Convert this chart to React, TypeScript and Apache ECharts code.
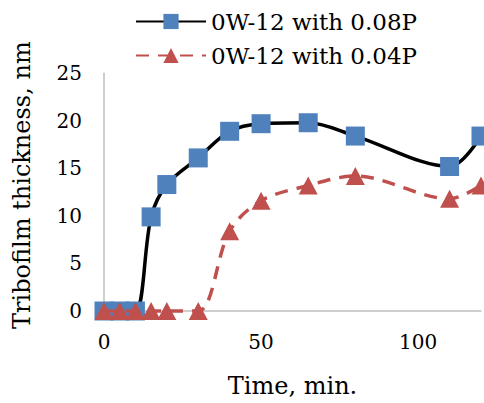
import React, { useEffect, useRef } from "react";
import * as echarts from "echarts";

const timeMin = [0, 5, 10, 15, 20, 30, 40, 50, 65, 80, 110, 120];
const thick008P = [0, 0, 0, 9.9, 13.3, 16.1, 18.9, 19.7, 19.8, 18.4, 15.2, 18.4];
const thick004P = [0, 0, 0, 0, 0, 0, 8.4, 11.6, 13.2, 14.2, 11.8, 13.2];
const seriesNames = ["0W-12 with 0.08P", "0W-12 with 0.04P"];
const xTitle = "Time, min.";
const yTitle = "Tribofilm thickness, nm";

const FONT = "DVSerifAlias";
const FONT_CSS = "'DejaVu Serif', DVSerifAlias, serif";

if (typeof document !== "undefined" && !document.getElementById("dvserif-alias")) {
  const st = document.createElement("style");
  st.id = "dvserif-alias";
  st.textContent =
    "@font-face{font-family:'DVSerifAlias';src:local('DejaVu Serif'),local('DejaVuSerif');}";
  document.head.appendChild(st);
}

function buildOption() {
  const pairs = (ys: number[]) => timeMin.map((x, i) => [x, ys[i]]);
  return {
    animation: false,
    backgroundColor: "#ffffff",
    textStyle: { fontFamily: FONT, color: "#000" },
    legend: {
      orient: "vertical",
      left: 130,
      top: 5,
      itemWidth: 70,
      itemHeight: 19,
      itemGap: 11,
      textStyle: { fontFamily: FONT, fontSize: 23, color: "#000" },
      data: seriesNames,
    },
    grid: { left: 104, right: 3, top: 73.3, bottom: 81.3, containLabel: false },
    xAxis: {
      type: "value",
      min: 0,
      max: 120,
      interval: 50,
      name: xTitle,
      nameLocation: "middle",
      nameGap: 63,
      nameTextStyle: { fontFamily: FONT, fontSize: 24, color: "#000" },
      axisLine: { show: true, lineStyle: { color: "#bfbfbf", width: 1.5 } },
      axisTick: { show: false },
      splitLine: { show: false },
      axisLabel: {
        fontFamily: FONT,
        fontSize: 20,
        color: "#000",
        margin: 21,
        showMaxLabel: false,
      },
    },
    yAxis: {
      type: "value",
      min: 0,
      max: 25,
      interval: 5,
      name: yTitle,
      nameLocation: "middle",
      nameGap: 70,
      nameTextStyle: {
        fontFamily: FONT,
        fontSize: 24,
        color: "#000",
        padding: [0, 0, 0, 14],
      },
      axisLine: { show: true, lineStyle: { color: "#bfbfbf", width: 1.5 } },
      axisTick: { show: false },
      splitLine: { show: false },
      axisLabel: { fontFamily: FONT, fontSize: 20, color: "#000", margin: 22 },
    },
    series: [
      {
        name: seriesNames[0],
        type: "line",
        data: pairs(thick008P),
        smooth: 0.33,
        symbol: "rect",
        symbolSize: 19,
        clip: false,
        lineStyle: { color: "#000000", width: 3.5 },
        itemStyle: { color: "#4f81bd", borderColor: "#4f81bd", borderWidth: 0 },
        z: 2,
      },
      {
        name: seriesNames[1],
        type: "line",
        data: pairs(thick004P),
        smooth: 0.33,
        symbol: "triangle",
        symbolSize: [19, 18],
        clip: false,
        lineStyle: { color: "#c0504d", width: 3.5, type: [13, 9] },
        itemStyle: { color: "#c0504d", borderWidth: 0 },
        z: 3,
      },
    ],
  };
}

export default function App() {
  const ref = useRef<HTMLDivElement>(null);
  useEffect(() => {
    const el = ref.current;
    if (!el) return;
    const chart = echarts.init(el, undefined, { renderer: "svg" });
    const applyFont = () => {
      el.querySelectorAll("text").forEach((t) => {
        (t as unknown as SVGElement).style.setProperty("font-family", FONT_CSS, "important");
      });
    };
    chart.on("finished", applyFont);
    chart.on("rendered", applyFont);
    chart.setOption(buildOption());
    applyFont();
    const observer = new MutationObserver(() => applyFont());
    observer.observe(el, { childList: true, subtree: true });
    const timers: number[] = [];
    timers.push(window.setTimeout(applyFont, 0));
    timers.push(window.setTimeout(applyFont, 100));
    timers.push(window.setTimeout(applyFont, 500));
    const raf = requestAnimationFrame(applyFont);
    return () => {
      observer.disconnect();
      timers.forEach((t) => clearTimeout(t));
      cancelAnimationFrame(raf);
      chart.dispose();
    };
  }, []);
  return (
    <div
      ref={ref}
      style={{ position: "fixed", left: 0, top: 0, width: 484, height: 403 }}
    />
  );
}
